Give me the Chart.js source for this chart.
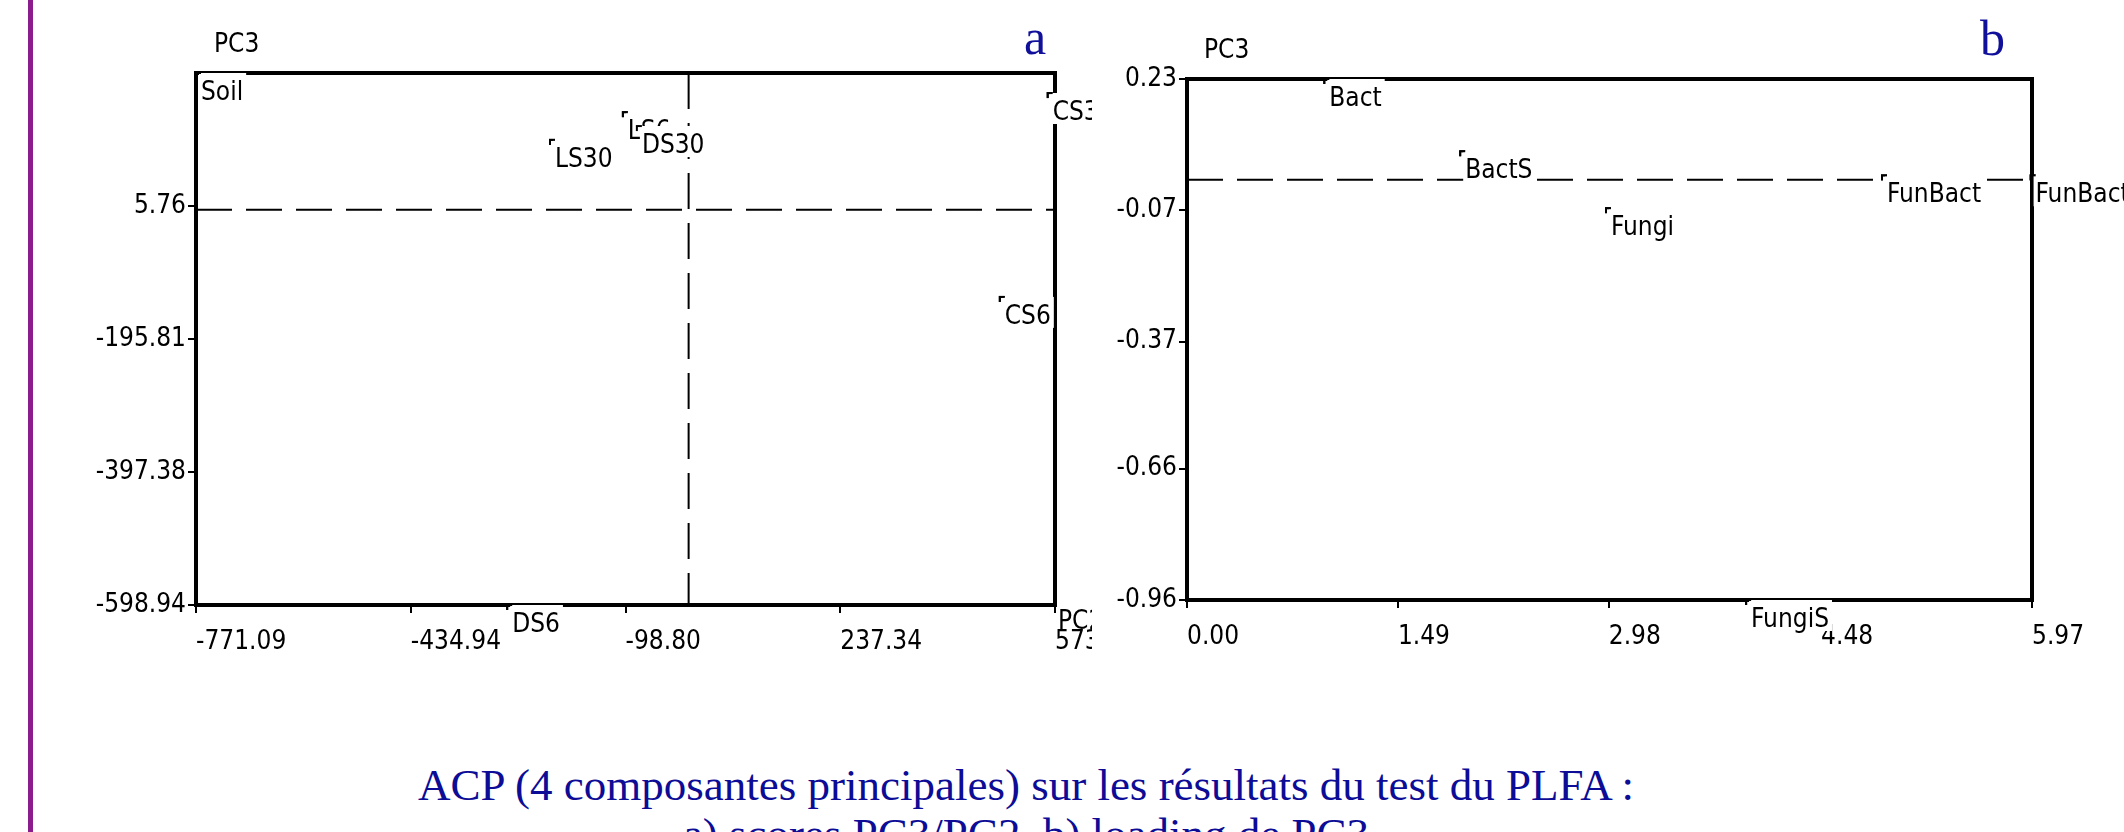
<!DOCTYPE html>
<html>
<head>
<meta charset="utf-8">
<script src="https://cdn.jsdelivr.net/npm/chart.js@4.4.1/dist/chart.umd.min.js"></script>
<style>
  body { margin: 0; width: 2124px; height: 832px; background: #fff; overflow: hidden; position: relative; }
  #bar { position: absolute; left: 28px; top: 0; width: 5px; height: 832px; background: #8b1c8b; }
  #wrapA { position: absolute; left: 0; top: 0; width: 1092px; height: 680px; }
  #wrapB { position: absolute; left: 1092px; top: 0; width: 1032px; height: 680px; }
  .tag { position: absolute; font: 50px "Liberation Serif", serif; color: #10109a; line-height: 1; }
  .caption { position: absolute; left: 0; width: 2052px; text-align: center; white-space: nowrap;
             font: 45px "Liberation Serif", serif; color: #0c0c96; line-height: 1; }
</style>
</head>
<body>
<div id="bar"></div>
<div id="wrapA"><canvas id="chartA" width="1092" height="680"></canvas></div>
<div id="wrapB"><canvas id="chartB" width="1032" height="680"></canvas></div>
<div class="tag" style="left:1024px; top:12px;">a</div>
<div class="tag" style="left:1980px; top:13px;">b</div>
<div class="caption" style="top:763px;">ACP (4 composantes principales) sur les résultats du test du PLFA :</div>
<div class="caption" style="top:812px;">a) scores PC3/PC2, b) loading de PC3</div>

<script>
// --- panel a : scores PC3 / PC2
const scoreNames = ["Soil", "LS30", "LS6", "DS30", "CS3", "CS6", "DS6"];
const scorePC2 = [-771.09, -217, -103, -81, 562, 487, -284];
const scorePC3 = [207.33, 106, 148, 127, 177, -132, -598.94];
const scoreXTicks = [-771.09, -434.94, -98.80, 237.34, 573.48];
const scoreYTicks = [5.76, -195.81, -397.38, -598.94];
const scoreYMax = 207.33;

// --- panel b : loading de PC3
const loadNames = ["Bact", "BactS", "Fungi", "FunBact", "FunBact", "FungiS"];
const loadX = [0.97, 1.93, 2.96, 4.91, 5.96, 3.95];
const loadPC3 = [0.23, 0.065, -0.065, 0.01, 0.01, -0.96];
const loadXTicks = [0.00, 1.49, 2.98, 4.48, 5.97];
const loadYTicks = [0.23, -0.07, -0.37, -0.66, -0.96];

const narrow = '"DejaVu Sans Condensed", "Liberation Sans Narrow", sans-serif';
const labelFont = `26px ${narrow}`;

// small corner marker used by the old PCA program
function cornerMarker() {
  const c = document.createElement("canvas");
  c.width = 16; c.height = 16;
  const g = c.getContext("2d");
  g.fillStyle = "#000";
  g.fillRect(7, 7, 6, 2);
  g.fillRect(7, 7, 2, 6);
  return c;
}
const marker = cornerMarker();

// label boxes are opaque, they cut the frame and the dashed lines
const pointLabels = {
  id: "pointLabels",
  afterDatasetsDraw(chart, args, opts) {
    const ctx = chart.ctx;
    const meta = chart.getDatasetMeta(0);
    ctx.save();
    ctx.font = labelFont;
    ctx.textBaseline = "alphabetic";
    meta.data.forEach((pt, i) => {
      const name = opts.names[i];
      const w = ctx.measureText(name).width;
      ctx.fillStyle = "#fff";
      ctx.fillRect(pt.x + 3, pt.y, w + 5, 31);
      ctx.drawImage(marker, pt.x - 8, pt.y - 8);
      ctx.fillStyle = "#000";
      ctx.fillText(name, pt.x + 5, pt.y + 27);
    });
    ctx.restore();
  }
};

const frame = {
  id: "frame",
  beforeDatasetsDraw(chart, args, opts) {
    const { ctx, chartArea: a, scales } = chart;
    ctx.save();
    ctx.strokeStyle = "#000";
    ctx.lineWidth = 2;
    ctx.setLineDash([36, 14]);
    const y0 = scales.y.getPixelForValue(0);
    ctx.beginPath(); ctx.moveTo(a.left, y0); ctx.lineTo(a.right, y0); ctx.stroke();
    if (opts.vertical) {
      const x0 = scales.x.getPixelForValue(0);
      ctx.beginPath(); ctx.moveTo(x0, a.top); ctx.lineTo(x0, a.bottom); ctx.stroke();
    }
    ctx.setLineDash([]);
    ctx.lineWidth = 4;
    ctx.strokeRect(a.left, a.top, a.right - a.left, a.bottom - a.top);
    ctx.font = labelFont;
    ctx.fillStyle = "#000";
    ctx.fillText("PC3", opts.yTitle[0], opts.yTitle[1]);
    if (opts.xTitle) ctx.fillText("PC2", opts.xTitle[0], opts.xTitle[1]);
    ctx.restore();
  }
};

function axes(xMin, xMax, xTicks, yMin, yMax, yTicks, yWidth, xHeight) {
  const common = {
    type: "linear",
    border: { display: false },
    grid: { drawOnChartArea: false, drawTicks: true, tickLength: 8, color: "#000", lineWidth: 2 },
  };
  return {
    x: {
      ...common,
      min: xMin, max: xMax,
      afterBuildTicks: s => { s.ticks = xTicks.map(v => ({ value: v })); },
      afterFit: s => { s.height = xHeight; s.paddingLeft = 0; s.paddingRight = 0; },
      ticks: { align: "start", autoSkip: false, maxRotation: 0, padding: 14, color: "#000",
               font: { family: narrow, size: 26 }, callback: v => v.toFixed(2) }
    },
    y: {
      ...common,
      min: yMin, max: yMax,
      afterBuildTicks: s => { s.ticks = yTicks.map(v => ({ value: v })); },
      afterFit: s => { s.width = yWidth; s.paddingTop = 0; s.paddingBottom = 0; },
      ticks: { autoSkip: false, padding: 2, color: "#000",
               font: { family: narrow, size: 26 }, callback: v => v.toFixed(2) }
    }
  };
}

new Chart(document.getElementById("chartA"), {
  type: "scatter",
  data: {
    datasets: [{
      data: scorePC2.map((x, i) => ({ x, y: scorePC3[i] })),
      pointStyle: marker, pointRadius: 4, clip: false
    }]
  },
  options: {
    responsive: false,
    animation: false,
    events: [],
    layout: { padding: { left: 0, top: 73, right: 37, bottom: 0 } },
    scales: axes(-771.09, 573.48, scoreXTicks, -598.94, scoreYMax, scoreYTicks, 196, 75),
    plugins: {
      legend: { display: false },
      tooltip: { enabled: false },
      frame: { vertical: true, yTitle: [214, 52], xTitle: [1058, 629] },
      pointLabels: { names: scoreNames }
    }
  },
  plugins: [frame, pointLabels]
});

new Chart(document.getElementById("chartB"), {
  type: "scatter",
  data: {
    datasets: [{
      data: loadX.map((x, i) => ({ x, y: loadPC3[i] })),
      pointStyle: marker, pointRadius: 4, clip: false
    }]
  },
  options: {
    responsive: false,
    animation: false,
    events: [],
    layout: { padding: { left: 0, top: 79, right: 92, bottom: 0 } },
    scales: axes(0, 5.97, loadXTicks, -0.96, 0.23, loadYTicks, 95, 80),
    plugins: {
      legend: { display: false },
      tooltip: { enabled: false },
      frame: { vertical: false, yTitle: [112, 58] },
      pointLabels: { names: loadNames }
    }
  },
  plugins: [frame, pointLabels]
});
</script>
</body>
</html>
